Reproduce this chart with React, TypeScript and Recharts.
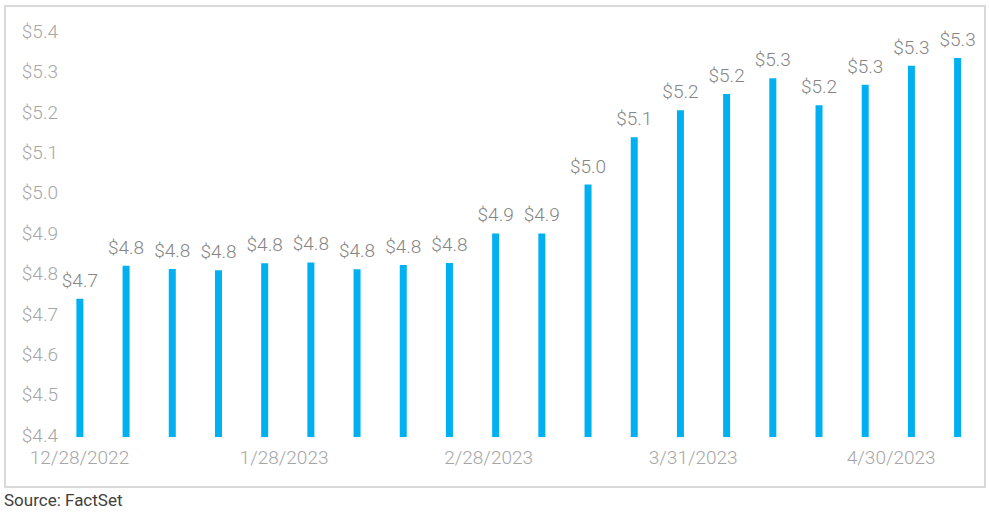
import { BarChart, Bar, XAxis, YAxis, LabelList } from 'recharts';

// weekly observations, first one on 12/28/2022
const weekDates = [
  '2022-12-28', '2023-01-04', '2023-01-11', '2023-01-18', '2023-01-25',
  '2023-02-01', '2023-02-08', '2023-02-15', '2023-02-22', '2023-03-01',
  '2023-03-08', '2023-03-15', '2023-03-22', '2023-03-29', '2023-04-05',
  '2023-04-12', '2023-04-19', '2023-04-26', '2023-05-03', '2023-05-10',
];
const values = [
  4.742, 4.824, 4.816, 4.813, 4.83, 4.832, 4.815, 4.826, 4.831, 4.904,
  4.904, 5.025, 5.142, 5.209, 5.249, 5.288, 5.221, 5.272, 5.319, 5.338,
];

const xTickDates = ['2022-12-28', '2023-01-28', '2023-02-28', '2023-03-31', '2023-04-30'];
const xTickLabels = ['12/28/2022', '1/28/2023', '2/28/2023', '3/31/2023', '4/30/2023'];
const yTicks = [4.4, 4.5, 4.6, 4.7, 4.8, 4.9, 5.0, 5.1, 5.2, 5.3, 5.4];

const DAY = 24 * 3600 * 1000;
const start = Date.parse(weekDates[0]);
const toDay = (d: string) => Math.round((Date.parse(d) - start) / DAY);

const data = weekDates.map((d, i) => ({ day: toDay(d), value: values[i] }));
const xTicks = xTickDates.map(toDay);

const font = 'Roboto, "Noto Sans", sans-serif';
const money = (v: number) => `$${v.toFixed(1)}`;

export default function App() {
  return (
    <div style={{ position: 'absolute', left: 0, top: 0, width: 989, height: 512, background: '#fff', fontFamily: font }}>
      <div
        style={{
          position: 'absolute',
          left: 4,
          top: 5,
          width: 978,
          height: 479,
          border: '2px solid #d9d9d9',
        }}
      />
      <div style={{ position: 'absolute', left: 0, top: 0 }}>
        <BarChart width={989} height={480} data={data} margin={{ top: 33, right: 12, left: 12, bottom: 13 }}>
          <XAxis
            dataKey="day"
            type="number"
            domain={[-2.65, 136]}
            ticks={xTicks}
            tickFormatter={(v: number) => xTickLabels[xTicks.indexOf(v)] ?? ''}
            axisLine={false}
            tickLine={false}
            tickSize={0}
            tickMargin={14}
            height={30}
            interval={0}
            tick={{ fill: '#a6a6a6', fontSize: 19, fontWeight: 300, fontFamily: font }}
          />
          <YAxis
            type="number"
            domain={[4.4, 5.4]}
            ticks={yTicks}
            allowDataOverflow
            tickFormatter={money}
            axisLine={false}
            tickLine={false}
            tickSize={0}
            tickMargin={4}
            width={50}
            interval={0}
            tick={{ fill: '#a6a6a6', fontSize: 19, fontWeight: 300, fontFamily: font, dy: -2 }}
          />
          <Bar dataKey="value" fill="#00b0f0" barSize={7} isAnimationActive={false}>
            <LabelList
              dataKey="value"
              position="top"
              offset={12}
              formatter={(v: any) => money(Number(v))}
              style={{ fill: '#858585', fontSize: 19, fontWeight: 300, fontFamily: font }}
            />
          </Bar>
        </BarChart>
      </div>
      <div
        style={{
          position: 'absolute',
          left: 4,
          top: 490,
          fontSize: 17,
          color: '#404040',
          fontFamily: font,
        }}
      >
        Source: FactSet
      </div>
    </div>
  );
}
